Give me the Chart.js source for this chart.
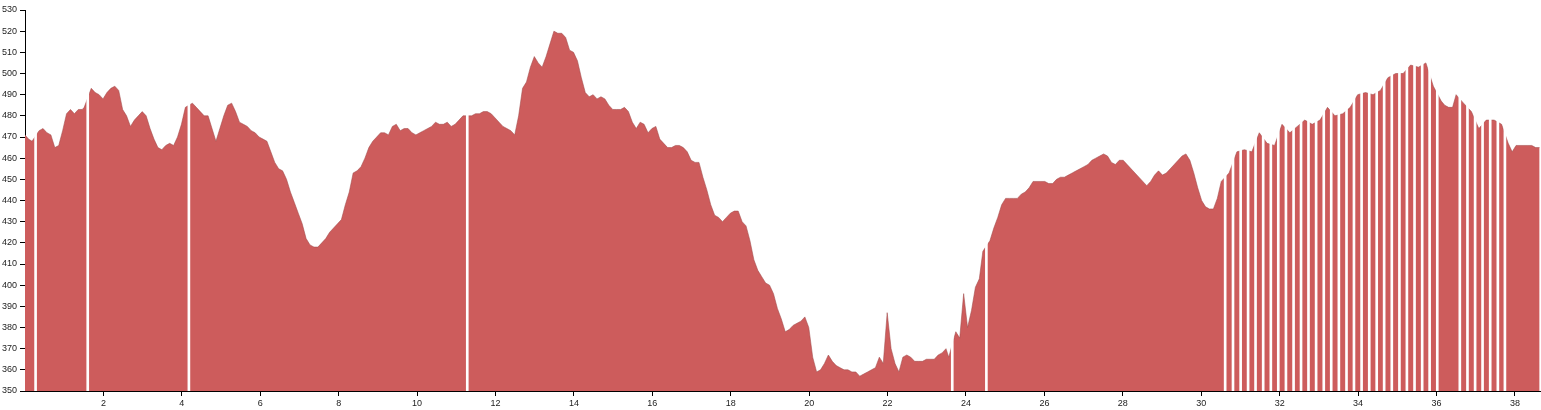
<!DOCTYPE html>
<html>
<head>
<meta charset="utf-8">
<script src="https://cdn.jsdelivr.net/npm/chart.js@4/dist/chart.umd.min.js"></script>
<style>
  html, body { margin: 0; padding: 0; background: #ffffff; }
  #wrap { width: 1541px; height: 410px; }
</style>
</head>
<body>
<div id="wrap"><canvas id="c" width="1541" height="410"></canvas></div>
<script>
// Distance along the route (km) of each elevation sample
const distanceKm = [
  0, 0.09, 0.18,
  0.36, 0.46, 0.56, 0.66, 0.76, 0.86, 0.96, 1.06, 1.16, 1.26, 1.36, 1.46, 1.51,
  1.69, 1.79, 1.89, 1.99, 2.09, 2.19, 2.29, 2.39, 2.49, 2.59,
  2.69, 2.79, 2.89, 2.99, 3.09, 3.19, 3.29, 3.39, 3.49, 3.59,
  3.69, 3.79, 3.89, 3.99, 4.09,
  4.27, 4.37, 4.47, 4.57, 4.67, 4.77, 4.87, 4.97, 5.07, 5.17,
  5.27, 5.37, 5.47, 5.57, 5.67, 5.77, 5.87, 5.97, 6.07, 6.17,
  6.27, 6.37, 6.47, 6.57, 6.67, 6.77, 6.87, 6.97, 7.07, 7.17,
  7.27, 7.37, 7.47, 7.57, 7.67, 7.77, 7.87, 7.97, 8.07, 8.17,
  8.27, 8.37, 8.47, 8.57, 8.67, 8.77, 8.87, 8.97, 9.07, 9.17,
  9.27, 9.37, 9.47, 9.57, 9.67, 9.77, 9.87, 9.97, 10.07, 10.17,
  10.27, 10.37, 10.47, 10.57, 10.67, 10.77, 10.87, 10.97, 11.07, 11.17,
  11.39, 11.49, 11.59, 11.69, 11.79, 11.89, 11.99, 12.09, 12.19, 12.29,
  12.39, 12.49, 12.59, 12.69, 12.79, 12.89, 12.99, 13.09, 13.19, 13.29,
  13.39, 13.49, 13.59, 13.69, 13.79, 13.89, 13.99, 14.09, 14.19, 14.29,
  14.39, 14.49, 14.59, 14.69, 14.79, 14.89, 14.99, 15.09, 15.19, 15.29,
  15.39, 15.49, 15.59, 15.69, 15.79, 15.89, 15.99, 16.09, 16.19, 16.29,
  16.39, 16.49, 16.59, 16.69, 16.79, 16.89, 16.99, 17.09, 17.19, 17.29,
  17.39, 17.49, 17.59, 17.69, 17.79, 17.89, 17.99, 18.09, 18.19, 18.29,
  18.39, 18.49, 18.59, 18.69, 18.79, 18.89, 18.99, 19.09, 19.19, 19.29,
  19.39, 19.49, 19.59, 19.69, 19.79, 19.89, 19.99, 20.09, 20.19, 20.29,
  20.39, 20.49, 20.59, 20.69, 20.79, 20.89, 20.99, 21.09, 21.19, 21.29,
  21.39, 21.49, 21.59, 21.69, 21.79, 21.89, 21.99, 22.09, 22.19, 22.29,
  22.39, 22.49, 22.59, 22.69, 22.79, 22.89, 22.99, 23.09, 23.19, 23.29,
  23.39, 23.49, 23.56,
  23.74, 23.84, 23.94, 24.04, 24.14, 24.24, 24.34, 24.43,
  24.61, 24.71, 24.81, 24.91, 25.01, 25.11, 25.21, 25.31, 25.41, 25.51,
  25.61, 25.71, 25.81, 25.91, 26.01, 26.11, 26.21, 26.31, 26.41, 26.51,
  26.61, 26.71, 26.81, 26.91, 27.01, 27.11, 27.21, 27.31, 27.41, 27.51,
  27.61, 27.71, 27.81, 27.91, 28.01, 28.11, 28.21, 28.31, 28.41, 28.51,
  28.61, 28.71, 28.81, 28.91, 29.01, 29.11, 29.21, 29.31, 29.41, 29.51,
  29.61, 29.71, 29.81, 29.91, 30.01, 30.11, 30.21, 30.31, 30.41, 30.51,
  30.71, 30.91, 31.10, 31.29, 31.48, 31.68, 31.87, 32.06, 32.26, 32.45,
  32.64, 32.83, 33.03, 33.22, 33.41, 33.61, 33.80, 33.99, 34.19, 34.38,
  34.57, 34.76, 34.96, 35.15, 35.34, 35.54, 35.73, 35.92, 36.12, 36.21,
  36.31, 36.41, 36.50, 36.69, 36.89, 37.08, 37.27, 37.47, 37.66,
  37.83, 37.93, 38.03, 38.13, 38.23, 38.33, 38.43, 38.53, 38.63
];

// Elevation (m) at each sample
const elevationM = [
  471, 469, 468,
  473, 474, 472, 471, 465, 466, 473, 481, 483, 481, 483, 483, 484,
  493, 491, 490, 488, 491, 493, 494, 492, 483, 480,
  475, 478, 480, 482, 480, 474, 469, 465, 464, 466,
  467, 466, 470, 476, 484,
  486, 484, 482, 480, 480, 474, 468, 474, 480, 485,
  486, 482, 477, 476, 475, 473, 472, 470, 469, 468,
  463, 458, 455, 454, 450, 444, 439, 434, 429, 422,
  419, 418, 418, 420, 422, 425, 427, 429, 431, 438,
  444, 453, 454, 456, 460, 465, 468, 470, 472, 472,
  471, 475, 476, 473, 474, 474, 472, 471, 472, 473,
  474, 475, 477, 476, 476, 477, 475, 476, 478, 480,
  480, 481, 481, 482, 482, 481, 479, 477, 475, 474,
  473, 471, 480, 493, 496, 503, 508, 505, 503, 508,
  514, 520, 519, 519, 517, 511, 510, 506, 498, 491,
  489, 490, 488, 489, 488, 485, 483, 483, 483, 484,
  482, 477, 474, 477, 476, 472, 474, 475, 469, 467,
  465, 465, 466, 466, 465, 463, 459, 458, 458, 451,
  445, 438, 433, 432, 430, 432, 434, 435, 435, 430,
  428, 421, 412, 407, 404, 401, 400, 396, 389, 384,
  378, 379, 381, 382, 383, 385, 380, 366, 359, 360,
  363, 367, 364, 362, 361, 360, 360, 359, 359, 357,
  358, 359, 360, 361, 366, 363, 387, 370, 363, 359,
  366, 367, 366, 364, 364, 364, 365, 365, 365, 367,
  368, 370, 366,
  378, 375, 396, 380, 388, 399, 403, 416,
  421, 427, 432, 438, 441, 441, 441, 441, 443, 444,
  446, 449, 449, 449, 449, 448, 448, 450, 451, 451,
  452, 453, 454, 455, 456, 457, 459, 460, 461, 462,
  461, 458, 457, 459, 459, 457, 455, 453, 451, 449,
  447, 449, 452, 454, 452, 453, 455, 457, 459, 461,
  462, 459, 453, 446, 440, 437, 436, 436, 441, 449,
  453, 463, 464, 463, 472, 467, 466, 476, 472, 475,
  478, 476, 478, 484, 480, 481, 484, 490, 491, 490,
  492, 498, 500, 500, 504, 503, 505, 494, 487, 485,
  484, 484, 490, 486, 482, 474, 478, 478, 476,
  467, 463, 466, 466, 466, 466, 466, 465, 465
];

// Axis ranges and tick values
const xRange = [0, 38.64];
const xTickValues = [2, 4, 6, 8, 10, 12, 14, 16, 18, 20, 22, 24, 26, 28, 30, 32, 34, 36, 38];
const yRange = [350, 530];
const yTickStep = 10;
// Consecutive samples further apart than this (km) mark a break in the recording
const gapKm = 0.13;

const points = distanceKm.map((d, i) => ({ x: d, y: elevationM[i] }));
// One white break marker halfway between samples that are far apart
const breakMarks = [];
for (let i = 1; i < distanceKm.length; i++) {
  if (distanceKm[i] - distanceKm[i - 1] > gapKm) {
    breakMarks.push({ x: (distanceKm[i] + distanceKm[i - 1]) / 2, y: yRange[1] });
  }
}

const fill = '#cd5c5c';
const outline = 'rgba(160,75,75,0.55)';
const fontSpec = { family: "'Liberation Sans', Arial, sans-serif", size: 9 };

new Chart(document.getElementById('c'), {
  type: 'bar',
  data: {
    datasets: [
      {
        type: 'bar',
        data: breakMarks,
        backgroundColor: '#ffffff',
        borderWidth: 0,
        barThickness: 2,
        order: 0
      },
      {
        type: 'line',
        data: points,
        borderColor: outline,
        borderWidth: 1,
        backgroundColor: fill,
        pointRadius: 0,
        fill: 'start',
        tension: 0,
        order: 1
      }
    ]
  },
  options: {
    responsive: false,
    animation: false,
    devicePixelRatio: 1,
    layout: { padding: { top: 10, right: 1, left: 0, bottom: 0 } },
    plugins: { legend: { display: false }, tooltip: { enabled: false } },
    scales: {
      x: {
        type: 'linear',
        min: xRange[0],
        max: xRange[1],
        offset: false,
        grid: { display: true, offset: false, drawOnChartArea: false, drawTicks: true, tickLength: 5, color: '#000' },
        border: { display: true, color: '#000', width: 1 },
        ticks: {
          padding: 2,
          maxRotation: 0,
          autoSkip: false,
          color: '#222',
          font: fontSpec
        },
        afterBuildTicks: (scale) => {
          scale.ticks = xTickValues.map(v => ({ value: v }));
        },
        afterFit: (scale) => { scale.height = 19; }
      },
      y: {
        type: 'linear',
        min: yRange[0],
        max: yRange[1],
        grid: { display: true, drawOnChartArea: false, drawTicks: true, tickLength: 5, color: '#000' },
        border: { display: true, color: '#000', width: 1 },
        ticks: {
          stepSize: yTickStep,
          padding: 3,
          autoSkip: false,
          color: '#222',
          font: fontSpec
        },
        afterFit: (scale) => { scale.width = 25; }
      }
    }
  }
});
</script>
</body>
</html>
